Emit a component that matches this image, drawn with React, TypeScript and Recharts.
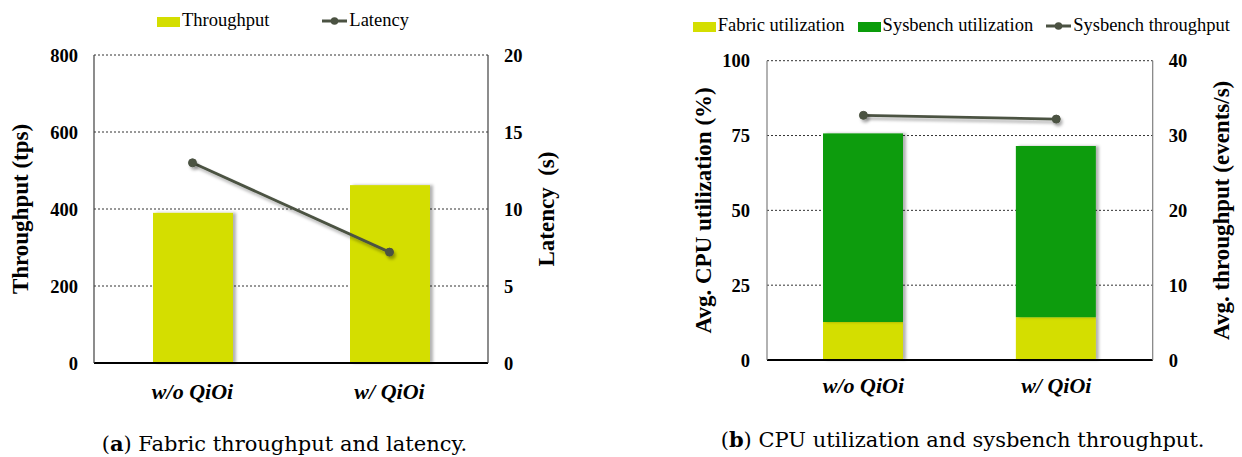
import React from "react";
import { ComposedChart, Bar, Line, XAxis, YAxis, CartesianGrid, Label } from "recharts";

// values
const categories = ["w/o QiOi", "w/ QiOi"];
const fabricThroughput = [390, 462];
const fabricLatency = [13.0, 7.2];
const fabricUtil = [12.7, 14.3];
const sysbenchUtil = [63.0, 57.2];
const sysbenchThroughput = [32.7, 32.2];

const throughputTicks = [0, 200, 400, 600, 800];
const latencyTicks = [0, 5, 10, 15, 20];
const cpuTicks = [0, 25, 50, 75, 100];
const eventTicks = [0, 10, 20, 30, 40];

const dataA = categories.map((name, i) => ({
  name,
  throughput: fabricThroughput[i],
  latency: fabricLatency[i],
}));

const dataB = categories.map((name, i) => ({
  name,
  fabric: fabricUtil[i],
  sysbench: sysbenchUtil[i],
  events: sysbenchThroughput[i],
}));

const FONT = '"Liberation Serif", "Times New Roman", serif';
const CAPTION_FONT = '"DejaVu Serif", serif';
const YELLOW = "#d4de00";
const GREEN = "#0a9c0a";
const LINE = "#4b5242";

const tickStyle = { fontFamily: FONT, fontWeight: 700, fontSize: 18.5, fill: "#000" };
const catTickStyle = { fontFamily: FONT, fontWeight: 700, fontStyle: "italic", fontSize: 22, fill: "#000" };

const axisTitle = (text: string, dx: number) => (props: any) => {
  const vb = props.viewBox || {};
  const cx = vb.x + dx;
  const cy = vb.y + vb.height / 2;
  return (
    <text
      x={cx}
      y={cy}
      transform={`rotate(-90 ${cx} ${cy})`}
      textAnchor="middle"
      dominantBaseline="central"
      style={{ fontFamily: FONT, fontWeight: 700, fontSize: 23, fill: "#000", whiteSpace: "pre" }}
    >
      {text}
    </text>
  );
};

const ShadowBar = (props: any) => {
  const { x, y, width, height, fill } = props;
  if (!height || height <= 0) return null;
  return <rect x={x} y={y} width={width} height={height} fill={fill} filter="url(#barShadow)" />;
};

type LegendEntry = { label: string; kind: "rect" | "line"; color: string };

const LegendRow = ({ items, left, top, gap }: { items: LegendEntry[]; left: number; top: number; gap: number }) => (
  <div
    style={{
      position: "absolute",
      left,
      top,
      display: "flex",
      alignItems: "flex-start",
      gap,
      fontFamily: FONT,
      fontSize: 18.5,
      lineHeight: "18.5px",
      whiteSpace: "nowrap",
      color: "#000",
    }}
  >
    {items.map((it) => (
      <div key={it.label} style={{ display: "flex", alignItems: "flex-start" }}>
        {it.kind === "rect" ? (
          <div style={{ width: 23, height: 10, marginTop: 6.5, marginRight: 2, background: it.color }} />
        ) : (
          <svg width={25} height={10} style={{ marginTop: 5, marginRight: 2 }}>
            <line x1={0} y1={5} x2={25} y2={5} stroke={it.color} strokeWidth={3} />
            <circle cx={12.5} cy={5} r={3.8} fill={it.color} />
          </svg>
        )}
        <span>{it.label}</span>
      </div>
    ))}
  </div>
);

const legendA: LegendEntry[] = [
  { label: "Throughput", kind: "rect", color: YELLOW },
  { label: "Latency", kind: "line", color: LINE },
];

const legendB: LegendEntry[] = [
  { label: "Fabric utilization", kind: "rect", color: YELLOW },
  { label: "Sysbench utilization", kind: "rect", color: GREEN },
  { label: "Sysbench throughput", kind: "line", color: LINE },
];

export default function App() {
  return (
    <div style={{ position: "absolute", left: 0, top: 0, width: 1242, height: 457, background: "#fff", overflow: "hidden" }}>
      <svg width={0} height={0} style={{ position: "absolute" }}>
        <defs>
          <filter id="barShadow" filterUnits="userSpaceOnUse" x={0} y={0} width={1242} height={457}>
            <feDropShadow dx={3} dy={0} stdDeviation={1.5} floodColor="#000" floodOpacity={0.3} />
          </filter>
          <filter id="lineShadow" filterUnits="userSpaceOnUse" x={0} y={0} width={1242} height={457}>
            <feDropShadow dx={2} dy={3} stdDeviation={1.5} floodColor="#000" floodOpacity={0.3} />
          </filter>
        </defs>
      </svg>

      {/* (a) fabric throughput and latency */}
      <div style={{ position: "absolute", left: 0, top: 0 }}>
        <ComposedChart width={620} height={420} data={dataA} margin={{ top: 55, right: 0, bottom: 0, left: 0 }}>
          <CartesianGrid yAxisId="left" vertical={false} stroke="#333" strokeDasharray="2 2" />
          <XAxis
            dataKey="name"
            height={57}
            tickLine={false}
            tickSize={0}
            tickMargin={20}
            axisLine={{ stroke: "#000", strokeWidth: 1.8 }}
            tick={catTickStyle}
          />
          <YAxis
            yAxisId="left"
            width={94}
            domain={[0, 800]}
            ticks={throughputTicks}
            tickLine={false}
            tickSize={0}
            tickMargin={16}
            axisLine={{ stroke: "#404040", strokeWidth: 1.2 }}
            tick={tickStyle}
          >
            <Label content={axisTitle("Throughput (tps)", 20)} />
          </YAxis>
          <YAxis
            yAxisId="right"
            orientation="right"
            width={132}
            domain={[0, 20]}
            ticks={latencyTicks}
            tickLine={false}
            tickSize={0}
            tickMargin={16}
            axisLine={{ stroke: "#404040", strokeWidth: 1.2 }}
            tick={{ ...tickStyle, textAnchor: "start" }}
          >
            <Label content={axisTitle("Latency  (s)", 58)} />
          </YAxis>
          <Bar
            yAxisId="left"
            dataKey="throughput"
            name="Throughput"
            fill={YELLOW}
            barSize={80}
            shape={ShadowBar}
            isAnimationActive={false}
          />
          <Line
            yAxisId="right"
            dataKey="latency"
            name="Latency"
            type="linear"
            stroke={LINE}
            strokeWidth={2.8}
            dot={{ r: 4, fill: LINE, stroke: LINE, strokeWidth: 1 }}
            activeDot={false}
            filter="url(#lineShadow)"
            isAnimationActive={false}
          />
        </ComposedChart>
      </div>
      <LegendRow items={legendA} left={157} top={10.5} gap={53} />

      {/* (b) CPU utilization and sysbench throughput */}
      <div style={{ position: "absolute", left: 620, top: 0 }}>
        <ComposedChart width={622} height={420} data={dataB} margin={{ top: 60.7, right: 0, bottom: 0, left: 0 }}>
          <CartesianGrid yAxisId="left" vertical={false} stroke="#333" strokeDasharray="2 2" />
          <XAxis
            dataKey="name"
            height={60}
            tickLine={false}
            tickSize={0}
            tickMargin={17}
            axisLine={{ stroke: "#000", strokeWidth: 1.8 }}
            tick={catTickStyle}
          />
          <YAxis
            yAxisId="left"
            width={147}
            domain={[0, 100]}
            ticks={cpuTicks}
            tickLine={false}
            tickSize={0}
            tickMargin={17}
            axisLine={{ stroke: "#7f7f7f", strokeWidth: 1.2 }}
            tick={tickStyle}
          >
            <Label content={axisTitle("Avg. CPU utilization (%)", 84)} />
          </YAxis>
          <YAxis
            yAxisId="right"
            orientation="right"
            width={89.3}
            domain={[0, 40]}
            ticks={eventTicks}
            tickLine={false}
            tickSize={0}
            tickMargin={16}
            axisLine={{ stroke: "#7f7f7f", strokeWidth: 1.2 }}
            tick={{ ...tickStyle, textAnchor: "start" }}
          >
            <Label content={axisTitle("Avg. throughput (events/s)", 69)} />
          </YAxis>
          <Bar
            yAxisId="left"
            dataKey="fabric"
            name="Fabric utilization"
            stackId="cpu"
            fill={YELLOW}
            barSize={80}
            shape={ShadowBar}
            isAnimationActive={false}
          />
          <Bar
            yAxisId="left"
            dataKey="sysbench"
            name="Sysbench utilization"
            stackId="cpu"
            fill={GREEN}
            barSize={80}
            shape={ShadowBar}
            isAnimationActive={false}
          />
          <Line
            yAxisId="right"
            dataKey="events"
            name="Sysbench throughput"
            type="linear"
            stroke={LINE}
            strokeWidth={2.8}
            dot={{ r: 4, fill: LINE, stroke: LINE, strokeWidth: 1 }}
            activeDot={false}
            filter="url(#lineShadow)"
            isAnimationActive={false}
          />
        </ComposedChart>
      </div>
      <LegendRow items={legendB} left={692.7} top={15.5} gap={13} />

      <svg width={1242} height={457} style={{ position: "absolute", left: 0, top: 0, pointerEvents: "none" }}>
        <text x={101.7} y={451} style={{ fontFamily: CAPTION_FONT, fontSize: 21, fill: "#000" }}>
          (<tspan fontWeight={700}>a</tspan>) Fabric throughput and latency.
        </text>
        <text x={720.7} y={447} style={{ fontFamily: CAPTION_FONT, fontSize: 21, fill: "#000" }}>
          (<tspan fontWeight={700}>b</tspan>) CPU utilization and sysbench throughput.
        </text>
      </svg>
    </div>
  );
}
